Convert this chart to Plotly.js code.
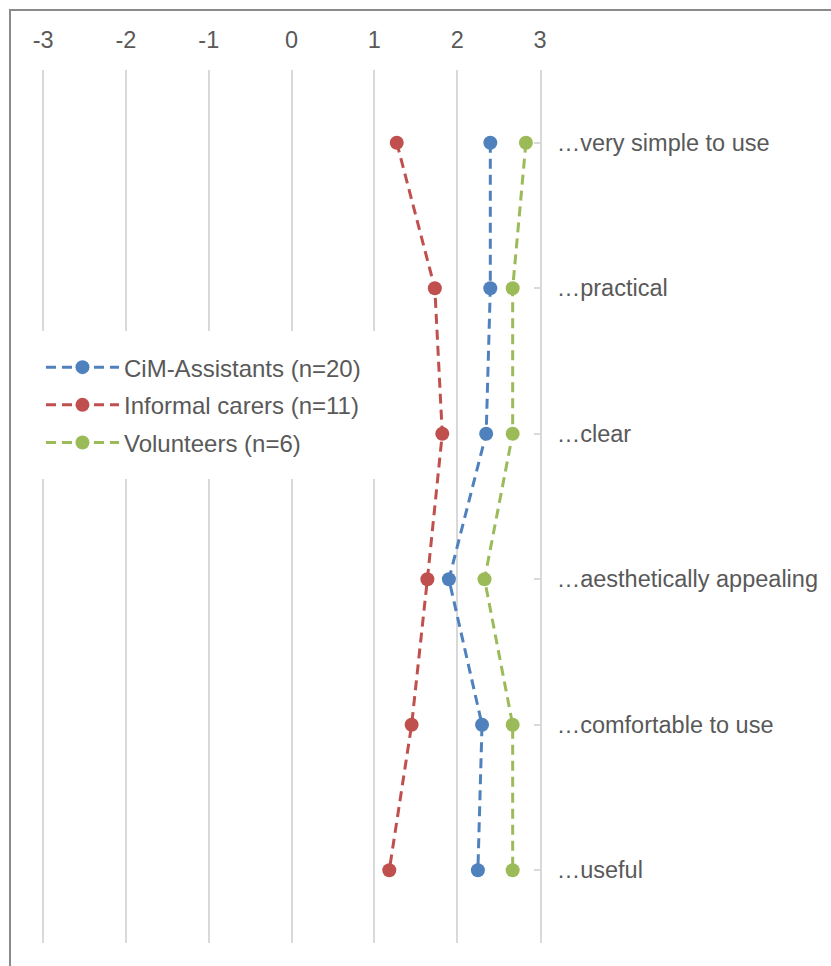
<!DOCTYPE html>
<html><head><meta charset="utf-8">
<script src="https://cdn.plot.ly/plotly-3.0.1.min.js"></script>
<style>
body{margin:0;background:#fff}
#wrap{position:relative;width:831px;height:966px;overflow:hidden}
#frame{position:absolute;left:9px;top:9px;width:900px;height:1000px;border-left:2px solid #8a8a8a;border-top:2px solid #8a8a8a;pointer-events:none}
</style></head><body>
<div id="wrap"><div id="chart" style="width:831px;height:966px"></div><div id="frame"></div></div>
<script>
const categories = ['…very simple to use','…practical','…clear','…aesthetically appealing','…comfortable to use','…useful'];
const seriesNames = ['CiM-Assistants (n=20)','Informal carers (n=11)','Volunteers (n=6)'];
const cimAssistants = [2.40, 2.40, 2.35, 1.90, 2.30, 2.25];
const informalCarers = [1.27, 1.73, 1.82, 1.64, 1.45, 1.18];
const volunteers = [2.83, 2.67, 2.67, 2.33, 2.67, 2.67];
const xTickVals = [-3, -2, -1, 0, 1, 2, 3];
const xTickText = ['-3', '-2', '-1', '0', '1', '2', '3'];

const colors = ['#4F81BD', '#C0504D', '#9BBB59'];
const seriesValues = [cimAssistants, informalCarers, volunteers];
const FONT = 'Liberation Sans, Arial, sans-serif';
const TXT = '#595959';

const traces = seriesValues.map((vals, i) => ({
  type: 'scatter',
  mode: 'lines+markers',
  name: seriesNames[i],
  legendgroup: 'g' + i,
  x: vals,
  y: categories,
  line: {color: colors[i], width: 3, dash: '10px,6px'},
  marker: {color: colors[i], size: 14, symbol: 'circle'},
  cliponaxis: false
}));

const layout = {
  width: 831, height: 966,
  margin: {l: 39, r: 291, t: 70, b: 23, pad: 0},
  paper_bgcolor: 'rgba(0,0,0,0)',
  plot_bgcolor: 'rgba(0,0,0,0)',
  font: {family: FONT, size: 23.5, color: TXT},
  showlegend: true,
  legend: {
    x: -0.024, y: 0.701, xanchor: 'left', yanchor: 'top',
    bgcolor: '#ffffff', bordercolor: '#ffffff', borderwidth: 14,
    font: {family: FONT, size: 24, color: TXT},
    traceorder: 'grouped', tracegroupgap: 3.5, itemwidth: 73
  },
  xaxis: {
    side: 'top', range: [-3.05, 3], tickvals: xTickVals, ticktext: xTickText,
    showgrid: true, gridcolor: '#d9d9d9', gridwidth: 2,
    zeroline: false, showline: false, ticks: '',
    tickfont: {family: FONT, size: 23.5, color: TXT},
    ticklabelstandoff: 16, fixedrange: true
  },
  yaxis: {
    type: 'category', categoryorder: 'array', categoryarray: categories,
    side: 'right', range: [5.5, -0.5],
    showgrid: false, zeroline: false,
    showline: true, linecolor: '#d9d9d9', linewidth: 2,
    ticks: 'inside', ticklen: 6, tickcolor: '#d9d9d9', tickwidth: 2,
    tickfont: {family: FONT, size: 23.5, color: TXT},
    ticklabelstandoff: 10, fixedrange: true
  }
};

Plotly.newPlot('chart', traces, layout, {staticPlot: true, displayModeBar: false});
</script>
</body></html>
